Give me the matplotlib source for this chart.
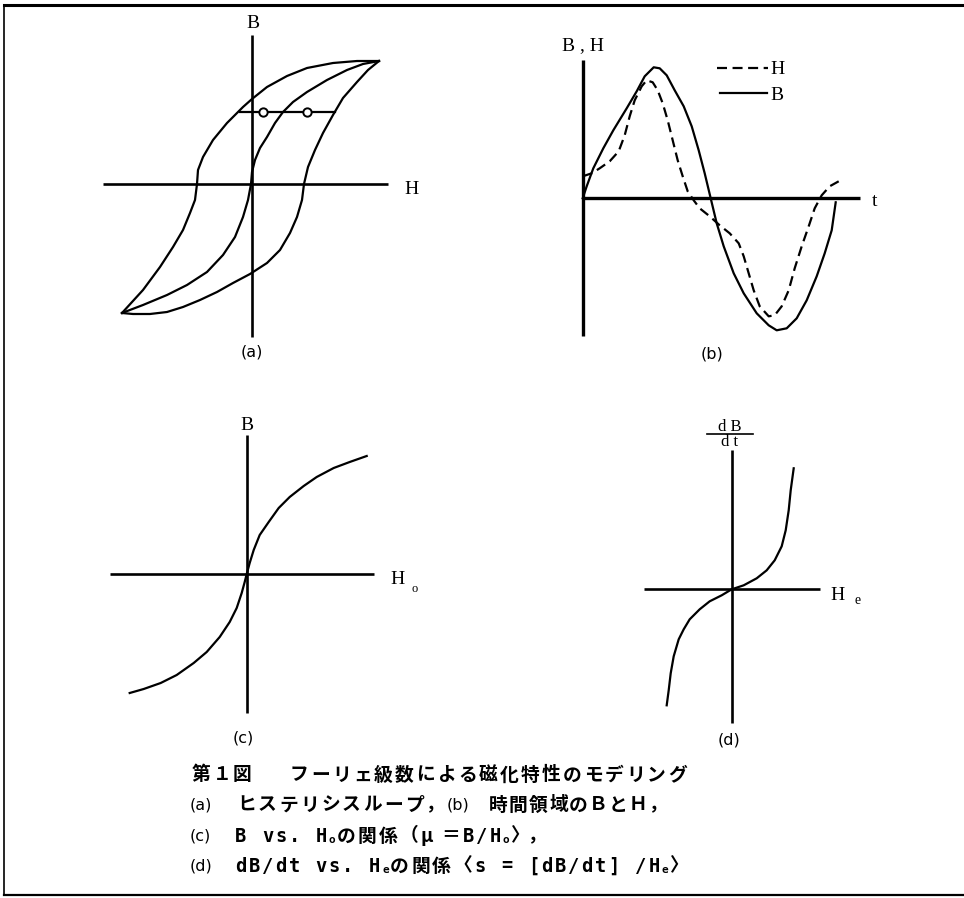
import matplotlib
matplotlib.use("Agg")
import matplotlib.pyplot as plt

# (a) hysteresis loop, drawing units with the origin at the axis crossing
loop_down_H = [127, 105, 81, 55, 35, 15, 0, -9, -25, -39, -49, -54, -55, -57, -62, -69,
               -79, -92, -109, -130]
loop_down_B = [123, 123, 121, 116, 108, 97, 85, 77, 61, 44, 27, 14, 0, -16, -29, -46,
               -63, -83, -106, -129]
loop_up_H = [-130, -119, -102, -85, -69, -52, -35, -19, -2, 15, 28, 38, 45, 50, 52, 56,
             63, 71, 81, 91, 105, 116, 127]
loop_up_B = [-129, -130, -130, -128, -123, -116, -108, -99, -90, -79, -66, -49, -33, -16,
             0, 17, 34, 51, 69, 86, 102, 114, 123]
inner_H = [-130, -109, -85, -65, -45, -29, -17, -9, -4, -1, 0, 3, 8, 15, 23, 31, 41, 55,
           75, 95, 111, 127]
inner_B = [-129, -121, -111, -101, -88, -71, -53, -33, -16, 0, 12, 24, 36, 47, 61, 72, 82,
           92, 104, 114, 120, 123]
chord_H = [-12, 83]
chord_B = [72, 72]
mark_H = [11, 55]
mark_B = [72, 72]

# (b) B and H against time
t_B = [0, 4, 10.6, 20.6, 30.6, 44, 54, 62, 71, 77, 84, 92, 101, 109, 116, 122, 128, 134,
       141, 151, 161, 174, 186, 194, 204, 214, 224, 234, 242, 249, 253]
wave_B = [0, 12, 30, 50, 68, 90, 107, 122, 131, 130, 123, 108, 92, 72, 48, 25, 0, -25,
          -48, -75, -95, -115, -127, -132, -130, -120, -102, -78, -55, -32, -4]
t_H = [0, 9, 17, 27, 36, 42, 47, 52, 59, 64, 70, 75, 80, 85, 90, 95, 100, 105, 111, 117,
       127, 137, 147, 156, 161, 166, 171, 177, 186, 192, 199, 206, 212, 219, 226, 232,
       239, 247, 256]
wave_H = [22, 25, 30, 37, 47, 63, 82, 98, 112, 118, 116, 108, 95, 78, 58, 38, 22, 7, -2,
          -10, -18, -27, -35, -45, -58, -75, -92, -108, -118, -117, -108, -92, -70, -48,
          -28, -10, 3, 12, 17]

# (c) B vs Ho
Ho_vals = [-117, -103, -86, -70, -53, -40, -27, -17, -10, -5, -2, 0, 3, 7, 13, 22, 32, 43,
           57, 70, 87, 103, 120]
B_vals = [-119, -115, -109, -101, -89, -78, -63, -48, -34, -19, -8, 0, 11, 24, 39, 52, 66,
          77, 88, 97, 106, 112, 118]

# (d) dB/dt vs He
He_vals = [-65, -63, -61, -58, -53, -48, -42, -32, -22, -10, 0, 12, 25, 35, 43, 50, 54, 57,
           59, 62]
dBdt_vals = [-116, -101, -84, -67, -50, -40, -30, -20, -12, -6, 0, 4, 11, 19, 29, 43, 59,
             79, 99, 121]

W, H = 964, 898
fig = plt.figure(figsize=(W / 100, H / 100), dpi=100)
bg = fig.add_axes([0, 0, 1, 1])
bg.set_xlim(0, W)
bg.set_ylim(H, 0)
bg.axis("off")

LW = 1.6
AXW = 1.9
DASH = (0, (4.5, 2.5))


def panel(x0, y0, x1, y1, ox, oy):
    """Axes in pixel units, origin at (ox, oy) of the page."""
    ax = fig.add_axes([x0 / W, 1 - y1 / H, (x1 - x0) / W, (y1 - y0) / H])
    ax.set_xlim(x0 - ox, x1 - ox)
    ax.set_ylim(oy - y1, oy - y0)
    ax.axis("off")
    return ax


def cross(ax, xr, yr, lw=AXW):
    ax.plot(xr, [0, 0], color="black", lw=lw, solid_capstyle="butt")
    ax.plot([0, 0], yr, color="black", lw=lw, solid_capstyle="butt")


def curve(ax, xs, ys, **kw):
    ax.plot(xs, ys, color="black", lw=LW, solid_joinstyle="round", **kw)


serif = dict(family="Liberation Serif", fontsize=14, color="black")
tag = dict(family="DejaVu Sans", fontsize=11.5, color="black")

# page frame
bg.plot([4, 964], [5, 5], color="black", lw=2.2)
bg.plot([4, 4], [5, 895], color="black", lw=1.2)
bg.plot([4, 964], [895, 895], color="black", lw=1.6)

# (a)
ax = panel(100, 15, 430, 345, 252, 184)
cross(ax, [-149, 136], [-153, 149])
curve(ax, loop_down_H, loop_down_B)
curve(ax, loop_up_H, loop_up_B)
curve(ax, inner_H, inner_B)
curve(ax, chord_H, chord_B)
ax.plot(mark_H, mark_B, "o", ms=6, mfc="white", mec="black", mew=1.4)
bg.text(253, 23, "B", ha="center", va="center", **serif)
bg.text(412, 190, "H", ha="center", va="center", **serif)
bg.text(252, 352, "(a)", ha="center", va="center", **tag)

# (b)
ax = panel(560, 30, 890, 345, 582.7, 198.3)
cross(ax, [0, 277], [-138, 138], lw=2.4)
curve(ax, t_B, wave_B)
curve(ax, t_H, wave_H, ls=DASH)
bg.plot([717, 768], [68, 68], color="black", lw=LW, ls=DASH)
bg.plot([720, 767], [93, 93], color="black", lw=LW)
bg.text(770, 69, "H", ha="left", va="center", **serif)
bg.text(770, 95, "B", ha="left", va="center", **serif)
bg.text(583, 46, "B , H", ha="center", va="center", **serif)
bg.text(875, 202, "t", ha="center", va="center", **serif)
bg.text(712, 354, "(b)", ha="center", va="center", **tag)

# (c)
ax = panel(100, 420, 430, 725, 246.7, 574)
cross(ax, [-137, 127], [-139, 139])
curve(ax, Ho_vals, B_vals)
bg.text(247, 425, "B", ha="center", va="center", **serif)
bg.text(398, 580, "H", ha="center", va="center", **serif)
bg.text(415, 589, "o", ha="center", va="center", family="Liberation Serif", fontsize=9)
bg.text(243, 738, "(c)", ha="center", va="center", **tag)

# (d)
ax = panel(620, 440, 900, 730, 731.7, 589.3)
cross(ax, [-88, 88], [-134, 139])
curve(ax, He_vals, dBdt_vals)
bg.text(730, 427, "d B", ha="center", va="center", family="Liberation Serif", fontsize=12)
bg.plot([707, 753], [434, 434], color="black", lw=1.2)
bg.text(730, 442, "d t", ha="center", va="center", family="Liberation Serif", fontsize=12)
bg.text(838, 595, "H", ha="center", va="center", **serif)
bg.text(858, 600, "e", ha="center", va="center", family="Liberation Serif", fontsize=10)
bg.text(729, 740, "(d)", ha="center", va="center", **tag)

# caption: typewriter-style, every character on a fixed pitch
STYLE = {
    "jp": dict(family=["Noto Sans CJK JP", "DejaVu Sans"], fontsize=13.5, fontweight="bold"),
    "lat": dict(family=["DejaVu Sans Mono"], fontsize=13.5, fontweight="bold"),
    "tag": dict(family=["DejaVu Sans"], fontsize=11.5),
    "sub": dict(family=["DejaVu Sans Mono"], fontsize=8, fontweight="bold"),
}
JP = 21
LAT = 13.4
renderer = fig.canvas.get_renderer()


def run(y, pieces):
    x = 0
    for start, text, key, pitch in pieces:
        if start is not None:
            x = start
        dy = 4 if key == "sub" else 0
        if pitch:
            for ch in text:
                bg.text(x, y + dy, ch, ha="left", va="center", color="black", **STYLE[key])
                x += pitch
        else:
            t = bg.text(x, y + dy, text, ha="left", va="center", color="black", **STYLE[key])
            x = t.get_window_extent(renderer).x1 + 1


run(775, [(192, "第１図", "jp", 20.5),
          (290, "フーリェ級数による磁化特性のモデリング", "jp", JP)])
run(805, [(190, "(a)", "tag", None),
          (237, "ヒステリシスループ", "jp", JP), (None, "，", "jp", 10),
          (447, "(b)", "tag", None),
          (489, "時間領域のＢとＨ", "jp", 20), (None, "，", "jp", 10)])
run(836, [(190, "(c)", "tag", None),
          (235, "B vs. H", "lat", LAT), (None, "o", "sub", None),
          (None, "の関係（μ＝", "jp", JP), (None, "B/H", "lat", LAT), (None, "o", "sub", None),
          (None, "〉", "jp", 17), (None, "，", "jp", 10)])
run(866, [(190, "(d)", "tag", None),
          (235, "dB/dt vs. H", "lat", LAT), (None, "e", "sub", None),
          (None, "の関係〈", "jp", JP), (None, "s = [dB/dt] /H", "lat", LAT),
          (None, "e", "sub", None), (None, "〉", "jp", 15)])

fig.savefig("out.png", dpi=100)
